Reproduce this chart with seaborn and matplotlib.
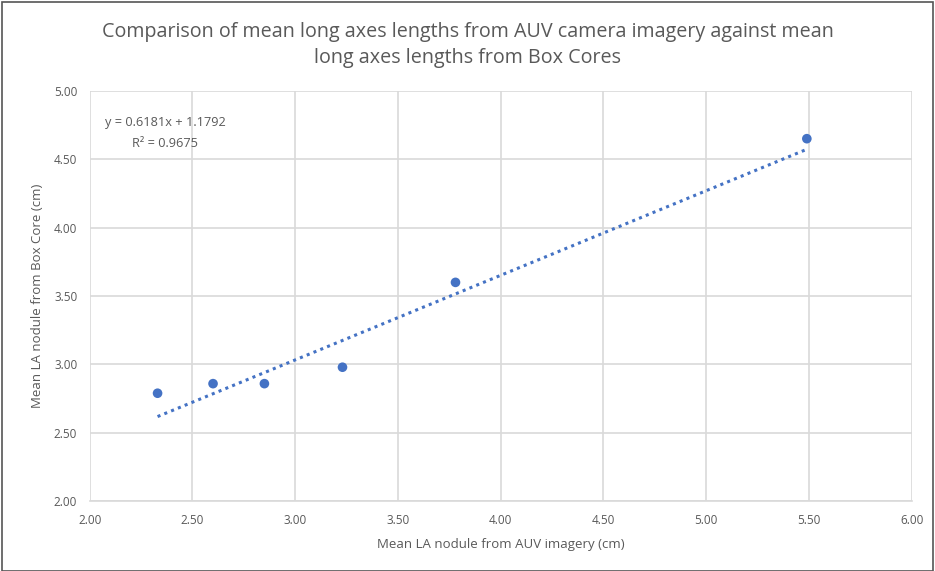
import matplotlib
matplotlib.use("Agg")
import matplotlib.pyplot as plt
import seaborn as sns
import pandas as pd
from matplotlib.patches import Rectangle

# Values
auv_la = [2.33, 2.60, 2.85, 3.23, 3.78, 5.49]
boxcore_la = [2.79, 2.86, 2.86, 2.98, 3.60, 4.65]
x_ticks = [2.00, 2.50, 3.00, 3.50, 4.00, 4.50, 5.00, 5.50, 6.00]
y_ticks = [2.00, 2.50, 3.00, 3.50, 4.00, 4.50, 5.00]
# linear trendline as reported on the chart
slope = 0.6181
intercept = 1.1792
equation = "y = 0.6181x + 1.1792"
r_squared = "R² = 0.9675"

df = pd.DataFrame({"auv": auv_la, "box": boxcore_la})
trend_x = [min(auv_la), max(auv_la)]
trend = pd.DataFrame({"x": trend_x, "y": [slope * v + intercept for v in trend_x]})

sns.set_style("white")
plt.rcParams['font.family'] = ['Open Sans', 'DejaVu Sans']

blue = "#4472C4"
grey = "#595959"

fig = plt.figure(figsize=(9.35, 5.71), dpi=100)
ax = fig.add_axes([0.096, 0.122, 0.879, 0.719])

sns.lineplot(data=trend, x="x", y="y", ax=ax, color=blue,
             linestyle=(0, (1, 1.4)), linewidth=2.2, zorder=2)
sns.scatterplot(data=df, x="auv", y="box", ax=ax, color=blue, s=48,
                edgecolor="none", zorder=3)

ax.set_xlim(2, 6)
ax.set_ylim(2, 5)
ax.set_xticks(x_ticks)
ax.set_yticks(y_ticks)
ax.set_xticklabels([f"{t:.2f}" for t in x_ticks], fontsize=8.5, color=grey)
ax.set_yticklabels([f"{t:.2f}" for t in y_ticks], fontsize=8.5, color=grey)
ax.tick_params(length=0, pad=9)
ax.grid(True, color="#d9d9d9", linewidth=1.2)
ax.set_axisbelow(True)
for side in ["top", "right", "left"]:
    ax.spines[side].set_visible(False)
ax.spines["bottom"].set_color("#d9d9d9")
ax.spines["bottom"].set_linewidth(1.2)

ax.set_xlabel("Mean LA nodule from AUV imagery (cm)", fontsize=9.5, color=grey, labelpad=8)
ax.set_ylabel("Mean LA nodule from Box Core (cm)", fontsize=9.5, color=grey, labelpad=7)

fig.suptitle("Comparison of mean long axes lengths from AUV camera imagery against mean\nlong axes lengths from Box Cores",
             fontsize=14.2, color=grey, y=0.962, linespacing=1.45)

ax.text(0.092, 0.915, equation, transform=ax.transAxes, fontsize=9.2, color=grey, ha="center")
ax.text(0.092, 0.862, r_squared, transform=ax.transAxes, fontsize=9.2, color=grey, ha="center")

fig.patches.append(Rectangle((0.002, 0.0), 0.996, 0.996, transform=fig.transFigure,
                             fill=False, edgecolor="#555555", linewidth=1.2))

fig.savefig("out.png", dpi=100)
